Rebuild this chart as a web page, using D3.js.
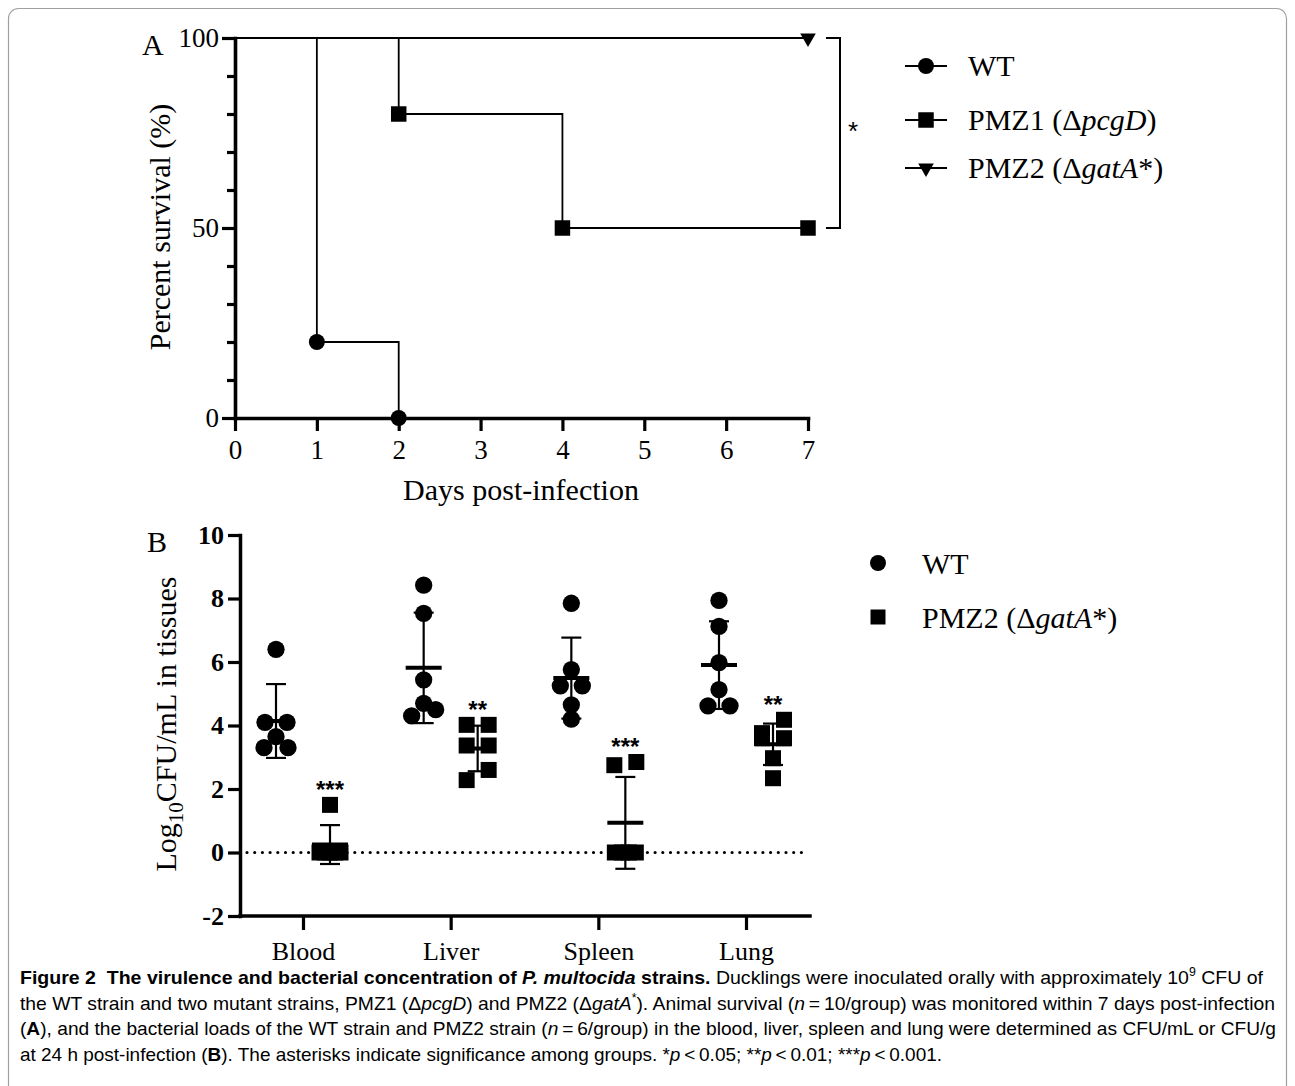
<!DOCTYPE html>
<html>
<head>
<meta charset="utf-8">
<script src="https://cdn.jsdelivr.net/npm/d3@7"></script>
<style>
body{margin:0;background:#fff;}
text{font-family:"Liberation Serif","Times New Roman",serif;fill:#000;}
</style>
</head>
<body>
<div id="chart"></div>
<script>
// panel A : survival (%) per day
var wtDays=[0,1,2], wtSurv=[100,20,0];
var pmz1Days=[0,2,4,7], pmz1Surv=[100,80,50,50];
var pmz2Days=[0,7], pmz2Surv=[100,100];
var survTicks=[0,50,100];
var dayTicks=[0,1,2,3,4,5,6,7];

// panel B : log10 CFU per animal
var tissues=["Blood","Liver","Spleen","Lung"];
var wtLoad=[
	[6.4,4.1,4.1,3.65,3.3,3.3],
	[8.42,7.53,5.44,4.7,4.5,4.3],
	[7.85,5.76,5.25,5.25,4.65,4.2],
	[7.94,7.12,5.98,5.13,4.62,4.62]
];
var pmz2Load=[
	[1.5,0,0,0,0,0],
	[4.02,4.02,3.37,3.37,2.6,2.28],
	[2.85,2.75,0,0,0,0],
	[4.18,3.76,3.6,3.6,2.97,2.34]
];
var sigLabels=["***","**","***","**"];
var loadTicks=[-2,0,2,4,6,8,10];

var width=1295,height=1086;

var svg=d3.select("#chart")
	.append("svg")
	.attr("width",width)
	.attr("height",height);

// figure frame
svg.append("rect")
	.attr("x",8.5).attr("y",8.5)
	.attr("width",1278).attr("height",1120)
	.attr("rx",10)
	.attr("fill","none")
	.attr("stroke","#a0a0a0")
	.attr("stroke-width",1.2);

// ---------- panel A ----------
var xA=d3.scaleLinear().domain([0,7]).range([235,808]);
var yA=d3.scaleLinear().domain([0,100]).range([418,38]);

var gA=svg.append("g");

var yAxisA=gA.append("g")
	.attr("transform","translate(235,0)")
	.call(d3.axisLeft(yA)
		.tickValues(d3.range(0,101,10))
		.tickSize(13).tickSizeOuter(0).tickPadding(3)
		.tickFormat(function(d){ return survTicks.indexOf(d)>=0 ? String(d) : ""; }));
yAxisA.selectAll(".tick line")
	.attr("x2",function(d){ return survTicks.indexOf(d)>=0 ? -13 : -8; });

var xAxisA=gA.append("g")
	.attr("transform","translate(0,418)")
	.call(d3.axisBottom(xA).tickValues(dayTicks).tickSize(13).tickSizeOuter(0).tickPadding(9)
		.tickFormat(function(d){ return String(d); }));

[yAxisA,xAxisA].forEach(function(ax){
	ax.select(".domain").style("stroke-width","3.6px").attr("stroke-linecap","square");
	ax.selectAll(".tick line").style("stroke-width","3.2px");
	ax.selectAll(".tick text").attr("font-family","Liberation Serif").attr("font-size",27).attr("fill","#000");
});

var stepLine=d3.line()
	.x(function(d){ return xA(d[0]); })
	.y(function(d){ return yA(d[1]); })
	.curve(d3.curveStepAfter);

var curves=[
	{name:"WT",days:wtDays,surv:wtSurv,sym:d3.symbolCircle,size:200,rot:0},
	{name:"PMZ1",days:pmz1Days,surv:pmz1Surv,sym:d3.symbolSquare,size:240,rot:0},
	{name:"PMZ2",days:pmz2Days,surv:pmz2Surv,sym:d3.symbolTriangle,size:105,rot:180}
];

curves.forEach(function(c){
	var pts=d3.zip(c.days,c.surv);
	gA.append("path")
		.attr("d",stepLine(pts))
		.attr("fill","none")
		.attr("stroke","#000")
		.attr("stroke-width",1.8);
	gA.selectAll(null)
		.data(pts.slice(1))
		.enter().append("path")
		.attr("d",d3.symbol().type(c.sym).size(c.size))
		.attr("transform",function(d){
			return "translate("+xA(d[0])+","+yA(d[1])+") rotate("+c.rot+")";
		})
		.attr("fill","#000");
});

// significance bracket between PMZ1 and PMZ2
gA.append("path")
	.attr("d","M826,"+yA(100)+"H840V"+yA(50)+"H826")
	.attr("fill","none").attr("stroke","#000").attr("stroke-width",2);
gA.append("text")
	.attr("x",853).attr("y",140)
	.attr("text-anchor","middle")
	.style("font-family","Liberation Sans")
	.attr("font-size",26)
	.text("*");

gA.append("text")
	.attr("x",521).attr("y",500)
	.attr("text-anchor","middle")
	.attr("font-size",30)
	.text("Days post-infection");
gA.append("text")
	.attr("transform","translate(170,227) rotate(-90)")
	.attr("text-anchor","middle")
	.attr("font-size",30)
	.text("Percent survival (%)");
gA.append("text")
	.attr("x",142).attr("y",55)
	.attr("font-size",30)
	.text("A");

// legend A
var legA=gA.selectAll(".legA")
	.data(curves)
	.enter().append("g")
	.attr("class","legA")
	.attr("transform",function(d,i){ return "translate(926,"+[66,120,168][i]+")"; });
legA.append("line")
	.attr("x1",-21).attr("x2",21)
	.attr("stroke","#000").attr("stroke-width",1.8);
legA.append("path")
	.attr("d",function(d){ return d3.symbol().type(d.sym).size(d.size)(); })
	.attr("transform",function(d){ return "rotate("+d.rot+")"; });
var legAText=legA.append("text")
	.attr("x",42).attr("y",10)
	.attr("font-size",30);
legAText.each(function(d,i){
	var t=d3.select(this);
	if(i==0){ t.text("WT"); }
	else if(i==1){
		t.append("tspan").text("PMZ1 (\u0394");
		t.append("tspan").attr("font-style","italic").text("pcgD");
		t.append("tspan").text(")");
	} else {
		t.append("tspan").text("PMZ2 (\u0394");
		t.append("tspan").attr("font-style","italic").text("gatA");
		t.append("tspan").text("*)");
	}
});

// ---------- panel B ----------
var xB=d3.scalePoint().domain(tissues).range([303,746]);
var yB=d3.scaleLinear().domain([-2,10]).range([916,535]);
var groupOff=27;

var gB=svg.append("g");

var yAxisB=gB.append("g")
	.attr("transform","translate(240,0)")
	.call(d3.axisLeft(yB).tickValues(loadTicks).tickSize(12).tickSizeOuter(0).tickPadding(4)
		.tickFormat(function(d){ return String(d); }));
yAxisB.selectAll(".tick text")
	.attr("font-family","Liberation Serif")
	.attr("font-weight","bold")
	.attr("font-size",26)
	.attr("fill","#000");

var xAxisB=gB.append("g")
	.attr("transform","translate(0,916)")
	.call(d3.axisBottom(xB).tickSize(14).tickSizeOuter(0).tickPadding(12));
xAxisB.select(".domain").remove();
xAxisB.selectAll(".tick text")
	.attr("font-family","Liberation Serif")
	.attr("font-size",26)
	.attr("fill","#000");
gB.append("line")
	.attr("x1",240).attr("x2",810)
	.attr("y1",916).attr("y2",916)
	.attr("stroke","#000").attr("stroke-width",3.5).attr("stroke-linecap","square");
yAxisB.select(".domain").style("stroke-width","3.5px").attr("stroke-linecap","square");
gB.selectAll(".tick line").style("stroke-width","3.2px");

// dotted zero line
gB.append("line")
	.attr("x1",247).attr("x2",806)
	.attr("y1",yB(0)).attr("y2",yB(0))
	.attr("stroke","#000")
	.attr("stroke-width",3.2)
	.attr("stroke-linecap","round")
	.attr("stroke-dasharray","0,7.7");

// spread points that sit on nearly the same value side by side
function spread(vals){
	var sorted=vals.slice().sort(d3.descending);
	var rows=[],row=null;
	sorted.forEach(function(v){
		if(row && row[0]-v<=0.421){ row.push(v); }
		else { row=[v]; rows.push(row); }
	});
	var out=[];
	rows.forEach(function(r){
		var offs;
		if(r.length==1) offs=[0];
		else if(r.length==2) offs=[11,-11];
		else if(r.length==3) offs=[0,12,-12];
		else offs=r.map(function(v,i){ return -10.5+21*i/(r.length-1); });
		r.forEach(function(v,i){ out.push({v:v,dx:offs[i]}); });
	});
	return out;
}

var groups=[];
tissues.forEach(function(t,i){
	groups.push({tissue:t,key:"WT",vals:wtLoad[i],cx:xB(t)-groupOff,sym:d3.symbolCircle,size:235});
	groups.push({tissue:t,key:"PMZ2",vals:pmz2Load[i],cx:xB(t)+groupOff,sym:d3.symbolSquare,size:256,sig:sigLabels[i]});
});

groups.forEach(function(g){
	gB.selectAll(null)
		.data(spread(g.vals))
		.enter().append("path")
		.attr("d",d3.symbol().type(g.sym).size(g.size))
		.attr("transform",function(d){ return "translate("+(g.cx+d.dx)+","+yB(d.v)+")"; })
		.attr("fill","#000");

	var m=d3.mean(g.vals), sd=d3.deviation(g.vals);
	var eb=gB.append("g").attr("stroke","#000");
	eb.append("line")
		.attr("x1",g.cx).attr("x2",g.cx)
		.attr("y1",yB(m+sd)).attr("y2",yB(m-sd))
		.attr("stroke-width",2.2);
	[m+sd,m-sd].forEach(function(v){
		eb.append("line")
			.attr("x1",g.cx-10).attr("x2",g.cx+10)
			.attr("y1",yB(v)).attr("y2",yB(v))
			.attr("stroke-width",2.2);
	});
	eb.append("line")
		.attr("x1",g.cx-18).attr("x2",g.cx+18)
		.attr("y1",yB(m)).attr("y2",yB(m))
		.attr("stroke-width",4);

	if(g.sig){
		gB.append("text")
			.attr("x",g.cx).attr("y",yB(d3.max(g.vals))-20+13)
			.attr("text-anchor","middle")
			.style("font-family","Liberation Sans")
			.attr("font-weight","bold")
			.attr("font-size",24)
			.text(g.sig);
	}
});

var yTitleB=gB.append("text")
	.attr("transform","translate(176,724) rotate(-90)")
	.attr("text-anchor","middle")
	.attr("font-size",30);
yTitleB.append("tspan").text("Log");
yTitleB.append("tspan").attr("font-size",21).attr("dy",7).text("10");
yTitleB.append("tspan").attr("dy",-7).text("CFU/mL in tissues");

gB.append("text")
	.attr("x",147).attr("y",552)
	.attr("font-size",30)
	.text("B");

// legend B
var legB=[{name:"WT",sym:d3.symbolCircle,size:200,y:563},{name:"PMZ2",sym:d3.symbolSquare,size:225,y:617}];
legB.forEach(function(d,i){
	gB.append("path")
		.attr("d",d3.symbol().type(d.sym).size(d.size)())
		.attr("transform","translate(878,"+d.y+")");
	var t=gB.append("text").attr("x",922).attr("y",d.y+11).attr("font-size",30);
	if(i==0) t.text("WT");
	else {
		t.append("tspan").text("PMZ2 (\u0394");
		t.append("tspan").attr("font-style","italic").text("gatA");
		t.append("tspan").text("*)");
	}
});

// ---------- caption ----------
var captionLines=[
	[["Figure 2  The virulence and bacterial concentration of ","b"],["P. multocida","bi"],[" strains.","b"],[" Ducklings were inoculated orally with approximately 10",""],["9","sup"],[" CFU of",""]],
	[["the WT strain and two mutant strains, PMZ1 (\u0394",""],["pcgD","i"],[") and PMZ2 (\u0394",""],["gatA","i"],["*","sup"],["). Animal survival (",""],["n","i"],["\u2009=\u200910/group) was monitored within 7 days post-infection",""]],
	[["(",""],["A","b"],["), and the bacterial loads of the WT strain and PMZ2 strain (",""],["n","i"],["\u2009=\u20096/group) in the blood, liver, spleen and lung were determined as CFU/mL or CFU/g",""]],
	[["at 24 h post-infection (",""],["B","b"],["). The asterisks indicate significance among groups. *",""],["p","i"],["\u2009<\u20090.05; **",""],["p","i"],["\u2009<\u20090.01; ***",""],["p","i"],["\u2009<\u20090.001.",""]]
];
var captionWidths=[1243,1255,1256,922];

captionLines.forEach(function(line,li){
	var t=svg.append("text")
		.attr("x",20).attr("y",984+li*25.5)
		.style("font-family","'Liberation Sans Narrow','Liberation Sans',sans-serif")
		.style("white-space","pre")
		.attr("font-size",19)
		.attr("fill","#231f20")
		.attr("textLength",captionWidths[li])
		.attr("lengthAdjust","spacingAndGlyphs");
	var lift=0;
	line.forEach(function(seg){
		var s=t.append("tspan").text(seg[0]);
		if(seg[1].indexOf("b")>=0) s.attr("font-weight","bold");
		if(seg[1].indexOf("i")>=0) s.attr("font-style","italic");
		if(seg[1]=="sup"){ s.attr("font-size",12).attr("dy",-8); lift=8; }
		else if(lift){ s.attr("dy",lift); lift=0; }
	});
});
</script>
</body>
</html>
